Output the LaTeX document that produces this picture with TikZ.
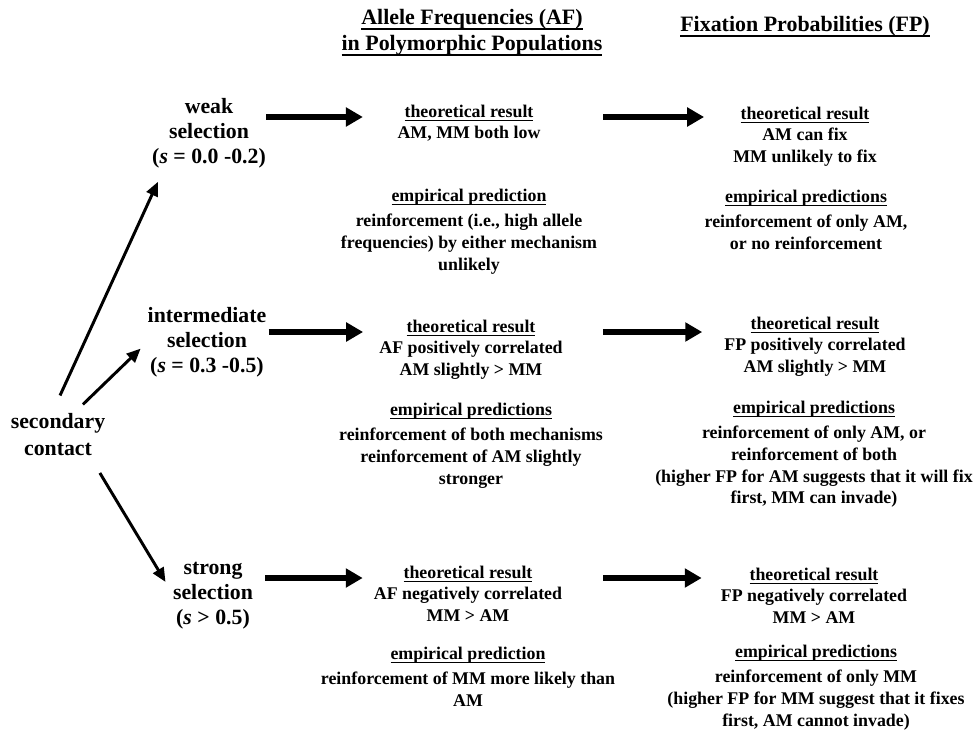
\documentclass[tikz,border=0pt]{standalone}
\usepackage{fontspec}
\setmainfont{Liberation Serif}
\usepackage{tikz}
\usetikzlibrary{arrows.meta}

\newsavebox{\ulbox}
\newcommand{\ttl}[1]{\sbox{\ulbox}{#1}\rlap{\rule[-3pt]{\wd\ulbox}{1pt}}\usebox{\ulbox}}
\newcommand{\hdl}[1]{\sbox{\ulbox}{#1}\rlap{\rule[-4.5pt]{\wd\ulbox}{1.4pt}}\usebox{\ulbox}}
\newcommand{\blk}[1]{\begin{tabular}[t]{@{}c@{}}#1\end{tabular}}

\begin{document}
\begin{tikzpicture}[
    x=0.025cm, y=-0.025cm,
    head/.style={font=\fontsize{15.6}{18.5}\selectfont\bfseries, inner sep=0pt, anchor=base},
    sel/.style={font=\fontsize{15.5}{17.8}\selectfont\bfseries, inner sep=0pt, anchor=base},
    res/.style={font=\fontsize{12.7}{15.4}\selectfont\bfseries, inner sep=0pt, anchor=base},
    fat/.style={-{Triangle[length=12pt,width=13pt]}, line width=3.8pt},
    slim/.style={-{Triangle[length=10pt,width=8.5pt]}, line width=2.1pt}
]
\useasboundingbox (0,0) rectangle (973,730);

% column headings
\node[head] (hdAF) at (472,24) {\blk{\hdl{Allele Frequencies (AF)}\\\hdl{in Polymorphic Populations}}};
\node[head] (hdFP) at (805,31) {\hdl{Fixation Probabilities (FP)}};

% selection strength
\node[sel, font=\fontsize{15.5}{19.5}\selectfont\bfseries] (sc) at (58,428) {\blk{secondary\\contact}};
\node[sel] (wk) at (209,113) {\blk{weak\\selection\\(\textit{s} = 0.0 -0.2)}};
\node[sel] (im) at (207,322) {\blk{intermediate\\selection\\(\textit{s} = 0.3 -0.5)}};
\node[sel] (st) at (213,574) {\blk{strong\\selection\\(\textit{s} > 0.5)}};

% allele frequencies
\node[res] (wkAFt) at (469,117) {\blk{\ttl{theoretical result}\\AM, MM both low}};
\node[res] (wkAFe) at (469,201) {\blk{\ttl{empirical prediction}\\[3pt]reinforcement (i.e., high allele\\frequencies) by either mechanism\\unlikely}};
\node[res] (imAFt) at (471,332) {\blk{\ttl{theoretical result}\\AF positively correlated\\AM slightly > MM}};
\node[res] (imAFe) at (471,415) {\blk{\ttl{empirical predictions}\\[3pt]reinforcement of both mechanisms\\reinforcement of AM slightly\\stronger}};
\node[res] (stAFt) at (468,578) {\blk{\ttl{theoretical result}\\AF negatively correlated\\MM > AM}};
\node[res] (stAFe) at (468,659) {\blk{\ttl{empirical prediction}\\[3pt]reinforcement of MM more likely than\\AM}};

% fixation probabilities
\node[res] (wkFPt) at (805,119) {\blk{\ttl{theoretical result}\\AM can fix\\MM unlikely to fix}};
\node[res] (wkFPe) at (806,202) {\blk{\ttl{empirical predictions}\\[3pt]reinforcement of only AM,\\or no reinforcement}};
\node[res] (imFPt) at (815,329) {\blk{\ttl{theoretical result}\\FP positively correlated\\AM slightly > MM}};
\node[res] (imFPe) at (814,413) {\blk{\ttl{empirical predictions}\\[3pt]reinforcement of only AM, or\\reinforcement of both\\(higher FP for AM suggests that it will fix\\first, MM can invade)}};
\node[res] (stFPt) at (814,580) {\blk{\ttl{theoretical result}\\FP negatively correlated\\MM > AM}};
\node[res] (stFPe) at (816,657) {\blk{\ttl{empirical predictions}\\[3pt]reinforcement of only MM\\(higher FP for MM suggest that it fixes\\first, AM cannot invade)}};

% branches
\draw[slim, shorten <=10.2pt, shorten >=8.6pt] ([xshift=-2.8pt]sc.north) -- ([xshift=7.8pt]wk.south west);
\draw[slim, shorten <=4.2pt, shorten >=6.7pt] ([xshift=14.7pt]sc.north) -- (im.west);
\draw[slim, shorten <=7.5pt, shorten >=10pt] ([xshift=25.9pt]sc.south) -- (st.west);

\draw[fat, shorten >=24.5pt] (wk.east |- wkAFt.base) -- (wkAFt.base west);
\draw[fat, shorten <=1.4pt, shorten >=11.4pt] (im.east |- imAFt.base) -- (imAFt.base west);
\draw[fat, shorten <=8.5pt, shorten >=7.8pt] (st.east |- stAFt.base) -- (stAFt.base west);

\draw[fat, shorten <=44.5pt, shorten >=20.6pt] (wkAFt.base east) -- (wkAFt.base east -| wkFPt.west);
\draw[fat, shorten <=28.5pt, shorten >=15.6pt] (imAFt.base east) -- (imAFt.base east -| imFPt.west);
\draw[fat, shorten <=29pt, shorten >=13.5pt] (stAFt.base east) -- (stAFt.base east -| stFPt.west);

\end{tikzpicture}
\end{document}
